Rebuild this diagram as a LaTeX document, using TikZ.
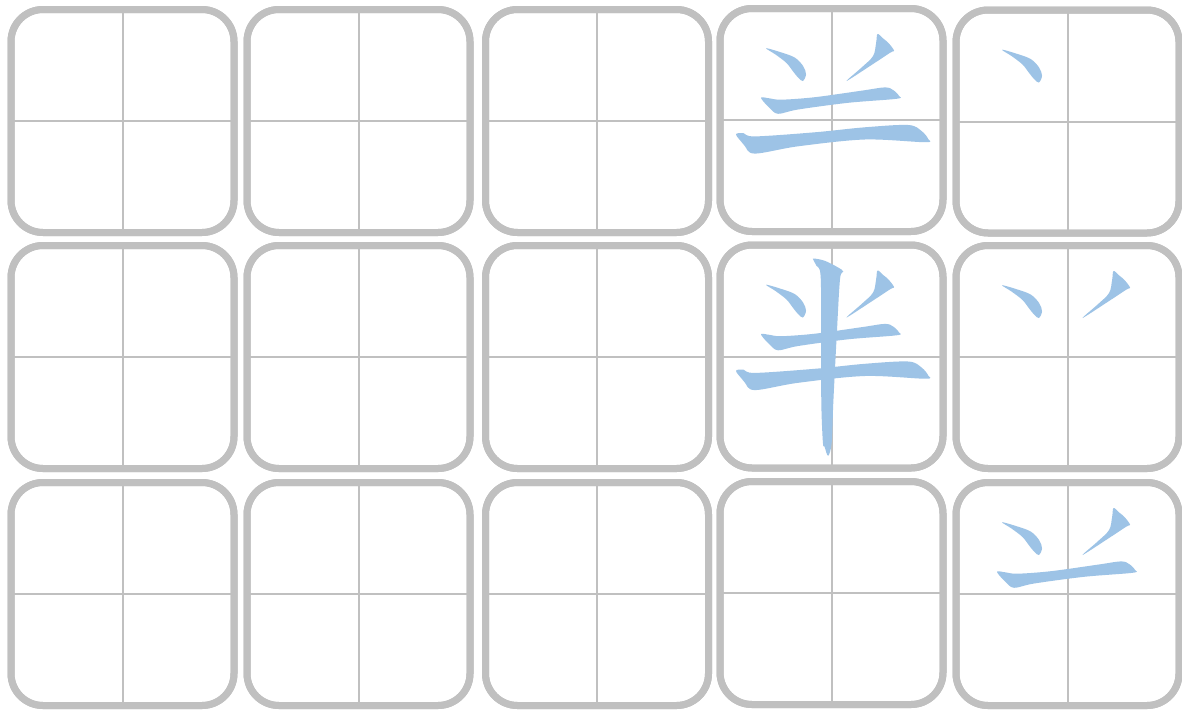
\documentclass[tikz,border=0pt]{standalone}
\definecolor{gridgray}{RGB}{192,192,192}
\definecolor{strokeblue}{RGB}{157,195,230}
\tikzset{
  cell/.style={draw=gridgray, line width=7pt, rounded corners=32pt,
    minimum width=223pt, minimum height=223pt, outer sep=0pt, inner sep=0pt, fill=white},
  guide/.style={draw=gridgray, line width=2pt},
  stk/.style={fill=strokeblue, draw=none},
  smoothstk/.style={smooth cycle, tension=0.55}
}
\newcommand\skOne[1]{\fill[stk,shift={#1}] plot[smoothstk] coordinates {(-65.5,-71.8) (-50,-67.5) (-36.7,-62.4) (-28.4,-54) (-25.5,-45.7) (-28.6,-39) (-33,-42) (-38,-48) (-45,-57) (-56,-65.5)};}
\newcommand\skTwo[1]{\fill[stk,shift={#1}] plot[smoothstk] coordinates {(46,-86) (51,-82) (56.6,-77.4) (62.5,-69.5) (59,-67.5) (40,-55) (15,-39) (30,-52.4) (41.6,-64) (44.6,-77)};}
\newcommand\skThree[1]{\fill[stk,shift={#1}] plot[smoothstk] coordinates {(-70.5,-22.4) (-65,-15) (-61.7,-11.8) (-53.4,-6.2) (-33.4,-10.5) (16.6,-17.2) (65,-21.2) (67.5,-24) (61.6,-30) (53.3,-32.6) (30,-29.3) (-16.7,-22.8) (-50,-20.3) (-61.7,-21.6)};}
\newcommand\skFour[1]{\fill[stk,shift={#1}] plot[smoothstk] coordinates {(-95.5,14.3) (-90,22) (-86.7,26) (-76.7,33.6) (-33.4,26.3) (33.3,19.5) (93.3,22.2) (96.8,19.3) (90,11) (76.6,5) (33.3,7.3) (-16.7,12.3) (-76.7,16.4) (-88,13.1)};}
\newcommand\skFive[1]{\fill[stk,shift={#1}] plot[smoothstk] coordinates {(-17.6,-98) (-6.7,-95.7) (6.6,-89) (11.8,-84.7) (8.5,-77.4) (5.2,-20.7) (1.8,46) (0.2,86) (-3.4,99.3) (-7,90) (-8.6,86) (-10.2,46) (-10.3,-20.7) (-10.9,-80.7) (-15,-90.7) (-18.2,-96.7)};}
\begin{document}
\begin{tikzpicture}[x=1pt,y=-1pt]
  \useasboundingbox (0,0) rectangle (1182,715);
  \fill[white] (0,0) rectangle (1182,715);
  % cells
  \foreach \nm/\cx/\cy in {
    c11/122.5/121, c12/358.5/121, c13/597/121, c14/831.5/120, c15/1067.5/121.5,
    c21/122.5/357, c22/358.5/357, c23/597/357, c24/831.5/356.5, c25/1067.5/357,
    c31/122.5/594, c32/358.5/594, c33/597/594, c34/831.5/593, c35/1067.5/594}{
    \node[cell] (\nm) at (\cx,\cy) {};
    \draw[guide] (\nm.north) -- (\nm.south);
    \draw[guide] (\nm.west) -- (\nm.east);
    \node[cell, fill=none] at (\nm) {};
  }
  % column 5: strokes 1, 1-2, 1-3
  \skOne{(c15)}
  \skOne{(c25)}
  \skTwo{(c25)}
  \skOne{(c35)}
  \skTwo{(c35)}
  \skThree{(c35)}
  % column 4: strokes 1-4, full character
  \skOne{(c14)}
  \skTwo{(c14)}
  \skThree{(c14)}
  \skFour{(c14)}
  \skOne{(c24)}
  \skTwo{(c24)}
  \skThree{(c24)}
  \skFour{(c24)}
  \skFive{(c24)}
\end{tikzpicture}
\end{document}
